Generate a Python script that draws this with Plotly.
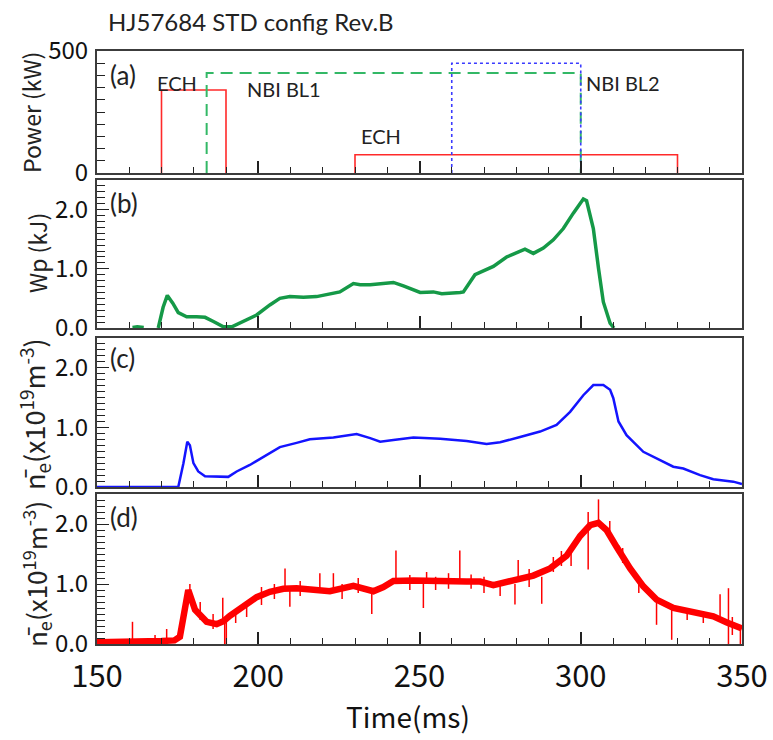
import plotly.graph_objects as go

# ---------------- data ----------------
# (a) heating power waveforms, kW
ech1_t = [170, 170, 190, 190]
ech1_p = [0, 340, 340, 0]
ech2_t = [230, 230, 330, 330]
ech2_p = [0, 75, 75, 0]
nbi1_t = [184, 184, 300, 300]
nbi1_p = [0, 410, 410, 0]
nbi2_t = [260, 260, 300, 300]
nbi2_p = [0, 450, 450, 0]

# (b) stored energy Wp, kJ
wp_t = [161, 162.5, 164.5, None,
        169, 170.5, 171.8, 173.5, 175.2, 177.8, 180.9, 183.5, 186.1, 189.2,
        191.8, 195.4, 199.5, 203.6, 206.7, 209.8, 214, 218.1, 222.2, 225.3,
        229.5, 231.6, 234.7, 238.8, 241.9, 245, 248.1, 250.2, 254.3, 256.9,
        262.6, 263.6, 267.2, 269.8, 272.9, 277, 281.2, 282.7, 285.3, 288.4,
        291.5, 294.6, 297.7, 300.8, 301.8, 303.9, 305.5, 307, 309.1, 310.3]
wp_v = [0.01, 0.02, 0.01, None,
        0.0, 0.35, 0.55, 0.42, 0.26, 0.19, 0.19, 0.18, 0.11, 0.02,
        0.02, 0.11, 0.22, 0.39, 0.50, 0.53, 0.52, 0.53, 0.57, 0.61,
        0.75, 0.73, 0.73, 0.75, 0.77, 0.71, 0.64, 0.60, 0.61, 0.58,
        0.60, 0.61, 0.90, 0.96, 1.04, 1.20, 1.30, 1.33, 1.26, 1.35,
        1.49, 1.68, 1.94, 2.18, 2.15, 1.68, 1.01, 0.44, 0.08, 0.0]

# (c) line-averaged density, 1e19 m^-3
ne1_t = [150, 175.2, 176.8, 178, 178.8, 179.9, 181.4, 183.5, 190.7, 193.3,
         197.4, 202.6, 206.7, 211.9, 216, 223.3, 230.5, 234.7, 237.8, 241.9,
         248.1, 256.4, 264.6, 270.8, 275, 281.2, 287.4, 292.5, 296.7, 300.8,
         303.9, 307, 309.1, 310.1, 311.7, 314.2, 319.4, 324.6, 328.7, 331.8,
         337, 341.1, 347.3, 350]
ne1_v = [0.0, 0.0, 0.40, 0.76, 0.70, 0.40, 0.26, 0.18, 0.17, 0.26,
         0.37, 0.54, 0.67, 0.74, 0.80, 0.83, 0.89, 0.82, 0.76, 0.79,
         0.83, 0.81, 0.77, 0.72, 0.75, 0.84, 0.93, 1.04, 1.26, 1.54,
         1.71, 1.71, 1.63, 1.49, 1.10, 0.87, 0.59, 0.45, 0.34, 0.31,
         0.20, 0.13, 0.09, 0.05]

# (d) line-averaged density from second interferometer chord
ne2_t = [150, 155, 160, 165, 170, 174, 175.7, 176.8, 178.3, 180.4, 184, 187.1,
         189.2, 191.2, 195.4, 199.5, 203.6, 207.8, 211.9, 217.1, 222.2, 229.5,
         235.7, 238.8, 241.9, 248.1, 256.4, 264.6, 268.8, 272.9, 279.1, 285.3,
         290.5, 295.6, 299.8, 302.9, 305.5, 308, 311.1, 315.3, 319.4, 323.5,
         328.7, 334.9, 341.1, 345.3, 350]
ne2_v = [0.03, 0.03, 0.04, 0.04, 0.05, 0.06, 0.12, 0.45, 0.90, 0.57, 0.37, 0.33,
         0.38, 0.47, 0.63, 0.78, 0.87, 0.92, 0.93, 0.90, 0.88, 0.97,
         0.88, 0.95, 1.05, 1.06, 1.04, 1.04, 1.04, 0.98, 1.06, 1.14,
         1.26, 1.47, 1.80, 1.98, 2.02, 1.90, 1.62, 1.26, 0.96, 0.74,
         0.60, 0.52, 0.46, 0.36, 0.26]

# (d) short noise excursions: time, lower and upper value
spk_t = [151, 161, 168, 171.6, 178.8, 182, 186, 189.0, 189.6, 190.1, 193, 196.4,
         201, 205, 208.3, 209.8, 213, 219.1, 223.3, 226, 231, 235.2, 242.7,
         247, 251.2, 252.2, 255, 259, 262.5, 266, 270, 275, 279.6, 280.6, 284,
         287.9, 291.5, 294, 297, 302.3, 305.5, 309, 313, 318, 323.5, 328.2,
         333, 338, 343.2, 345.8, 347, 349.5]
spk_lo = [0.0, 0.02, 0.02, 0.03, 0.70, 0.40, 0.25, 0.35, 0.0, 0.0, 0.35, 0.45,
          0.65, 0.75, 0.90, 0.62, 0.80, 0.88, 0.88, 0.75, 0.85, 0.50, 1.00,
          0.90, 0.60, 1.04, 0.90, 0.92, 1.04, 0.92, 0.85, 0.80, 0.66, 1.05, 0.95,
          0.67, 1.20, 1.30, 1.30, 1.24, 2.00, 1.75, 1.35, 0.85, 0.32, 0.07,
          0.40, 0.35, 0.46, 0.0, 0.15, 0.0]
spk_hi = [0.10, 0.37, 0.15, 0.25, 1.00, 0.70, 0.50, 0.77, 0.40, 0.40, 0.55, 0.70,
          0.95, 1.00, 1.26, 0.92, 1.05, 1.18, 1.18, 1.00, 1.10, 0.88, 1.56,
          1.15, 1.05, 1.20, 1.12, 1.18, 1.56, 1.16, 1.12, 1.05, 1.00, 1.40, 1.25,
          1.12, 1.45, 1.55, 1.65, 2.20, 2.41, 2.05, 1.60, 1.10, 0.74, 0.60,
          0.60, 0.55, 0.83, 0.93, 0.45, 0.30]

x_ticks = [150, 200, 250, 300, 350]

# ---------------- styling ----------------
AX = "#3c3c3c"
NUM = "Noto Sans CJK JP, Liberation Sans, sans-serif"
GOTH = "Noto Sans CJK JP, Noto Sans, sans-serif"
LABEL = "Lato, Noto Sans, sans-serif"

fig = go.Figure()

# (a)
fig.add_trace(go.Scatter(x=ech1_t, y=ech1_p, mode="lines", xaxis="x", yaxis="y",
                         line=dict(color="#ff2a2a", width=1.6)))
fig.add_trace(go.Scatter(x=ech2_t, y=ech2_p, mode="lines", xaxis="x", yaxis="y",
                         line=dict(color="#ff2a2a", width=1.6)))
fig.add_trace(go.Scatter(x=nbi1_t, y=nbi1_p, mode="lines", xaxis="x", yaxis="y",
                         line=dict(color="#33b866", width=2, dash="12px,7px")))
fig.add_trace(go.Scatter(x=nbi2_t, y=nbi2_p, mode="lines", xaxis="x", yaxis="y",
                         line=dict(color="#3b3bff", width=1.6, dash="dot")))
# (b)
fig.add_trace(go.Scatter(x=wp_t, y=wp_v, mode="lines", xaxis="x2", yaxis="y2",
                         line=dict(color="#159947", width=3.5)))
# (c)
fig.add_trace(go.Scatter(x=ne1_t, y=ne1_v, mode="lines", xaxis="x3", yaxis="y3",
                         line=dict(color="#1414ff", width=2.5)))
# (d)
spx, spy = [], []
for t, lo, hi in zip(spk_t, spk_lo, spk_hi):
    spx += [t, t, None]
    spy += [lo, hi, None]
fig.add_trace(go.Scatter(x=ne2_t, y=ne2_v, mode="lines", xaxis="x4", yaxis="y4",
                         line=dict(color="#ff0000", width=6.5)))
fig.add_trace(go.Scatter(x=spx, y=spy, mode="lines", xaxis="x4", yaxis="y4",
                         line=dict(color="#ff0000", width=1.5)))

# ---------------- axes ----------------
W, H = 773, 740
ML, MR, MT, MB = 97, 31, 51, 96
PH = H - MT - MB


def yfrac(py):
    return (H - MB - py) / PH


doms = [(yfrac(173), 1.0), (yfrac(328), yfrac(180)),
        (yfrac(487), yfrac(338)), (0.0, yfrac(494))]

layout = dict(template="none", width=W, height=H,
              margin=dict(l=ML, r=MR, t=MT, b=MB, autoexpand=False),
              paper_bgcolor="white", plot_bgcolor="white", showlegend=False)

for i in range(4):
    sfx = "" if i == 0 else str(i + 1)
    bottom = i == 3
    layout["xaxis" + sfx] = dict(
        domain=[0, 1], anchor="y" + sfx, range=[150, 350], automargin=False,
        showline=True, mirror=True, linecolor=AX, linewidth=2,
        showgrid=False, zeroline=False,
        ticks="inside", ticklen=12, tickwidth=1.5, tickcolor="#222",
        tickvals=x_ticks,
        minor=dict(ticks="inside", ticklen=6, tickwidth=1.3, tickcolor="#222",
                   dtick=10, tick0=150, showgrid=False),
        showticklabels=bottom,
        tickfont=dict(family=NUM, size=31, color="#111"),
        ticklabelstandoff=4,
    )
    if i > 0:
        layout["xaxis" + sfx]["matches"] = "x"

layout["yaxis"] = dict(
    domain=list(doms[0]), anchor="x", range=[0, 500], automargin=False,
    showline=True, mirror=True, linecolor=AX, linewidth=2,
    showgrid=False, zeroline=False,
    ticks="inside", ticklen=8, tickwidth=1.3, tickcolor="#222",
    tickvals=[0, 500], ticktext=["0", "500"],
    minor=dict(ticks="inside", ticklen=8, tickwidth=1.3, tickcolor="#222",
               dtick=50, showgrid=False),
    tickfont=dict(family=NUM, size=24, color="#111"),
    ticklabelstandoff=2,
)
for i in range(1, 4):
    sfx = str(i + 1)
    layout["yaxis" + sfx] = dict(
        domain=list(doms[i]), anchor="x" + sfx, range=[0, 2.5], automargin=False,
        showline=True, mirror=True, linecolor=AX, linewidth=2,
        showgrid=False, zeroline=False,
        ticks="inside", ticklen=12, tickwidth=1.3, tickcolor="#222",
        dtick=1, tick0=0, tickformat=".1f",
        minor=dict(ticks="inside", ticklen=8, tickwidth=1.2, tickcolor="#222",
                   dtick=0.1, showgrid=False),
        tickfont=dict(family=NUM, size=24, color="#111"),
        ticklabelstandoff=2,
    )

fig.update_layout(**layout)


# ---------------- text ----------------
def xfrac(px):
    return (px - ML) / (W - ML - MR)


ann = []
ann.append(dict(text="HJ57684 STD config Rev.B", xref="paper", yref="paper",
                x=xfrac(106), y=yfrac(21), xanchor="left", yanchor="middle",
                showarrow=False, font=dict(family=LABEL, size=24, color="#222")))
for lab, py in [("(a)", 75), ("(b)", 203), ("(c)", 358), ("(d)", 517)]:
    ann.append(dict(text=lab, xref="paper", yref="paper", x=xfrac(108), y=yfrac(py),
                    xanchor="left", yanchor="middle", showarrow=False,
                    font=dict(family=LABEL, size=26, color="#222")))
for lab, t, p in [("ECH", 174.8, 368), ("NBI BL1", 208, 343),
                  ("ECH", 238, 150), ("NBI BL2", 313, 368)]:
    ann.append(dict(text=lab, xref="x", yref="y", x=t, y=p, showarrow=False,
                    xanchor="center", yanchor="middle",
                    font=dict(family=LABEL, size=20, color="#222")))

ne_lab = "n\u0304<sub>e</sub>(x10<sup>19</sup>m<sup>-3</sup>)"
for lab, px, py, sz in [("Power (kW)", 31, 113, 23), ("Wp (kJ)", 37, 253, 23),
                        (ne_lab, 34, 414, 27), (ne_lab, 36, 574, 26)]:
    ann.append(dict(text=lab, xref="paper", yref="paper", x=xfrac(px), y=yfrac(py),
                    xanchor="center", yanchor="middle", textangle=-90,
                    showarrow=False, font=dict(family=GOTH, size=sz, color="#222")))
ann.append(dict(text="Time(ms)", xref="paper", yref="paper", x=xfrac(408), y=yfrac(716),
                xanchor="center", yanchor="middle", showarrow=False,
                font=dict(family=GOTH, size=28, color="#111")))
fig.update_layout(annotations=ann)

fig.write_html("out.html")
